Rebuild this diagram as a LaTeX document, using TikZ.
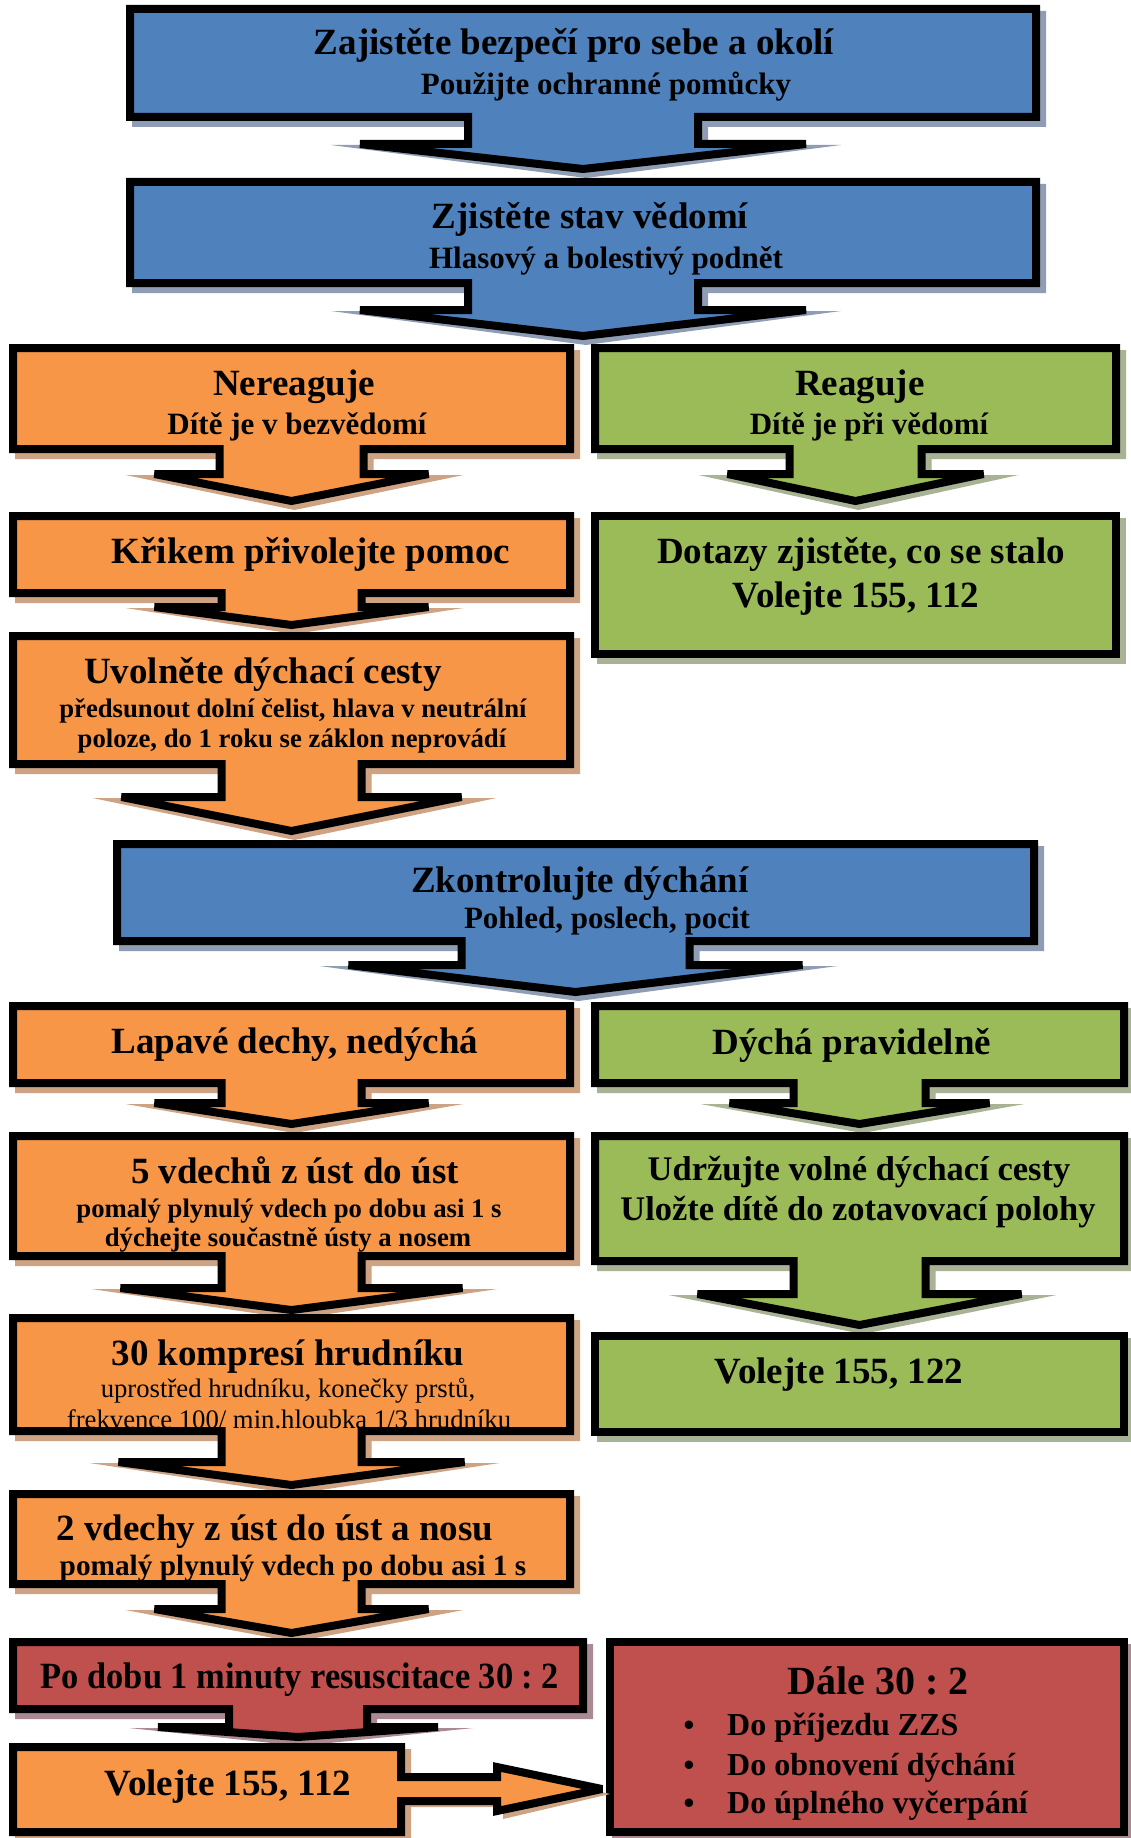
\documentclass[tikz,border=0pt]{standalone}
\usepackage{fontspec}
\setmainfont{Liberation Serif}
\newfontfamily\condfont[FakeStretch=0.93]{Liberation Serif}
\frenchspacing
\definecolor{cblue}{HTML}{4F81BD}
\definecolor{sblue}{HTML}{8E9DB3}
\definecolor{corange}{HTML}{F79646}
\definecolor{sorange}{HTML}{CDA383}
\definecolor{cgreen}{HTML}{9BBB59}
\definecolor{sgreen}{HTML}{A8B294}
\definecolor{cred}{HTML}{C0504D}
\definecolor{sred}{HTML}{A98A92}
\tikzset{
  txt/.style={anchor=base, inner sep=0pt, text=black},
  tA/.style={txt, font=\frenchspacing\fontsize{37}{40}\selectfont\bfseries},
  tB/.style={txt, font=\frenchspacing\fontsize{31}{34}\selectfont\bfseries},
  tC/.style={txt, font=\frenchspacing\fontsize{26.7}{30}\selectfont\bfseries},
  tR/.style={txt, font=\frenchspacing\fontsize{26.7}{30}\selectfont},
  tG/.style={txt, font=\frenchspacing\fontsize{34.5}{38}\selectfont\bfseries},
  tP/.style={txt, font=\frenchspacing\fontsize{29.3}{32}\selectfont\bfseries},
  tK/.style={txt, font=\frenchspacing\condfont\fontsize{37}{40}\selectfont\bfseries},
  tD/.style={txt, font=\frenchspacing\fontsize{40}{44}\selectfont\bfseries},
  tL/.style={txt, anchor=base west, font=\frenchspacing\fontsize{32}{35}\selectfont\bfseries},
  outl/.style={draw=black, line width=8pt, miter limit=3},
}
\def\parsearr#1/#2/#3/#4\relax{\def\as{#1}\def\aw{#2}\def\ayw{#3}\def\ayt{#4}}
% #1 name, #2 fill, #3 shadow, #4 x1, #5 y1, #6 x2, #7 y2, #8 s/w/yw/yt, #9 texts
\newcommand\dbox[9]{%
  \parsearr#8\relax
  \pgfmathsetmacro\cx{(#4+#6)/2}%
  \fill[#3] (#4+6,#5+6) -- (#6+6,#5+6) -- (#6+6,#7+6) -- (\cx+\as+6,#7+6) -- (\cx+\as+6,\ayw+5)
     -- (\cx+\aw+32,\ayw+5) -- (\cx+3,\ayt+4) -- (\cx-\aw-26,\ayw+5) -- (\cx-\as+6,\ayw+5)
     -- (\cx-\as+6,#7+6) -- (#4+6,#7+6) -- cycle;
  \fill[#2] (#4+4,#5+4) -- (#6-4,#5+4) -- (#6-4,#7-4) -- (\cx+\as-4,#7-4) -- (\cx+\as-4,\ayw+4)
     -- (\cx+\aw-3,\ayw+4) -- (\cx,\ayt-5) -- (\cx-\aw+3,\ayw+4) -- (\cx-\as+4,\ayw+4)
     -- (\cx-\as+4,#7-4) -- (#4+4,#7-4) -- cycle;
  \coordinate (#1) at (\cx,{(#5+#7)/2});
  \coordinate (#1-tip) at (\cx,\ayt);
  #9
  \draw[outl] (#4+4,#5+4) -- (#6-4,#5+4) -- (#6-4,#7-4) -- (\cx+\as-4,#7-4) -- (\cx+\as-4,\ayw+4)
     -- (\cx+\aw-3,\ayw+4) -- (\cx,\ayt-5) -- (\cx-\aw+3,\ayw+4) -- (\cx-\as+4,\ayw+4)
     -- (\cx-\as+4,#7-4) -- (#4+4,#7-4) -- cycle;
}
% plain box: #1 name, #2 fill, #3 shadow, #4 x1, #5 y1, #6 x2, #7 y2, #8 texts
\newcommand\pbox[8]{%
  \fill[#3] (#4+6,#5+6) rectangle (#6+6,#7+6);
  \fill[#2] (#4+4,#5+4) rectangle (#6-4,#7-4);
  \coordinate (#1) at ({(#4+#6)/2},{(#5+#7)/2});
  #8
  \draw[outl] (#4+4,#5+4) rectangle (#6-4,#7-4);
}
\begin{document}
\begin{tikzpicture}[x=1pt,y=-1pt]
\useasboundingbox (0,0) rectangle (1130,1838);
\fill[white] (0,0) rectangle (1130,1838);

\dbox{b1}{cblue}{sblue}{126}{5}{1040}{121}{119/226/140/174}{%
  \node[tA] (b1t) at (574,55) {Zajistěte bezpečí pro sebe a okolí};
  \node[tB] (b1s) at (606,95) {Použijte ochranné pomůcky};}

\dbox{b2}{cblue}{sblue}{126}{178}{1040}{287}{119/226/306/341}{%
  \node[tA] (b2t) at (590,228) {Zjistěte stav vědomí};
  \node[tB] (b2s) at (606,268) {Hlasový a bolestivý podnět};}

\dbox{b3}{corange}{sorange}{9}{344}{574}{453}{76/140/470/506}{%
  \node[tA] (b3t) at (294,395) {Nereaguje};
  \node[tB] (b3s) at (297,434) {Dítě je v bezvědomí};}

\dbox{b4}{cgreen}{sgreen}{591}{344}{1120}{453}{70/131/470/506}{%
  \node[tA] (b4t) at (860,395) {Reaguje};
  \node[tB] (b4s) at (869,434) {Dítě je při vědomí};}

\dbox{b5}{corange}{sorange}{9}{512}{574}{597}{74/140/603/630}{%
  \node[tA] (b5t) at (311,563) {Křikem přivolejte pomoc};}

\pbox{b6}{cgreen}{sgreen}{591}{512}{1120}{658}{%
  \node[tA] (b6t) at (861,563) {Dotazy zjistěte, co se stalo};
  \node[tA] (b6s) at (856,607) {Volejte 155, 112};}

\dbox{b7}{corange}{sorange}{9}{632}{574}{768}{74/173/793/836}{%
  \node[tA] (b7t) at (263,683) {Uvolněte dýchací cesty};
  \node[tC] (b7s) at (293,717) {předsunout dolní čelist, hlava v neutrální};
  \node[tC] (b7u) at (292,747) {poloze, do 1 roku se záklon neprovádí};}

\dbox{b8}{cblue}{sblue}{113}{840}{1038}{945}{118/230/961/997}{%
  \node[tA] (b8t) at (580,892) {Zkontrolujte dýchání};
  \node[tB] (b8s) at (607,928) {Pohled, poslech, pocit};}

\dbox{b9}{corange}{sorange}{9}{1002}{574}{1087}{74/140/1099/1129}{%
  \node[tA] (b9t) at (295,1053) {Lapavé dechy, nedýchá};}

\dbox{b10}{cgreen}{sgreen}{591}{1002}{1128}{1087}{70/133/1099/1129}{%
  \node[tA] (b10t) at (852,1054) {Dýchá pravidelně};}

\dbox{b11}{corange}{sorange}{9}{1132}{574}{1260}{74/174/1284/1315}{%
  \node[tA] (b11t) at (295,1183) {5 vdechů z úst do úst};
  \node[tC] (b11s) at (289,1217) {pomalý plynulý vdech po dobu asi 1 s};
  \node[tC] (b11u) at (288,1246) {dýchejte součastně ústy a nosem};}

\dbox{b12}{cgreen}{sgreen}{591}{1132}{1128}{1265}{70/165/1290/1330}{%
  \node[tG] (b12t) at (859,1180) {Udržujte volné dýchací cesty};
  \node[tG] (b12s) at (858,1220) {Uložte dítě do zotavovací polohy};}

\dbox{b13}{corange}{sorange}{9}{1314}{574}{1435}{74/176/1458/1490}{%
  \node[tA] (b13t) at (288,1365) {30 kompresí hrudníku};
  \node[tR] (b13s) at (288,1397) {uprostřed hrudníku, konečky prstů,};
  \node[tR] (b13u) at (289,1428) {frekvence 100/ min.hloubka 1/3 hrudníku};}

\pbox{b14}{cgreen}{sgreen}{591}{1332}{1128}{1436}{%
  \node[tA] (b14t) at (839,1383) {Volejte 155, 122};}

\dbox{b15}{corange}{sorange}{9}{1490}{574}{1588}{74/140/1605/1638}{%
  \node[tA] (b15t) at (275,1540) {2 vdechy z úst do úst a nosu};
  \node[tP] (b15s) at (293,1575) {pomalý plynulý vdech po dobu asi 1 s};}

\dbox{b16}{cred}{sred}{9}{1638}{587}{1713}{73/143/1723/1742}{%
  \node[tK] (b16t) at (300,1688) {Po dobu 1 minuty resuscitace 30 : 2};}

% red box on the right
\pbox{b18}{cred}{sred}{606}{1638}{1128}{1836}{%
  \node[tD] (b18t) at (878,1694) {Dále 30 : 2};
  \node[tL] (l1) at (727,1735) {Do příjezdu ZZS};
  \node[tL] (l2) at (727,1775) {Do obnovení dýchání};
  \node[tL] (l3) at (727,1813) {Do úplného vyčerpání};
  \node[tB] (d1) at (689,1735) {•};
  \node[tB] (d2) at (689,1775) {•};
  \node[tB] (d3) at (689,1813) {•};}

% orange box with right arrow callout
\coordinate (b17) at (207,1790);
\fill[sorange] (15,1749) -- (411,1749) -- (411,1779) -- (503,1779) -- (503,1769) -- (610,1794)
   -- (503,1819) -- (503,1807) -- (411,1807) -- (411,1842) -- (15,1842) -- cycle;
\fill[corange] (13,1747) -- (401,1747) -- (401,1777) -- (497,1777) -- (497,1767) -- (602,1789)
   -- (497,1811) -- (497,1801) -- (401,1801) -- (401,1832) -- (13,1832) -- cycle;
\node[tA] (b17t) at (228,1795) {Volejte 155, 112};
\draw[outl] (13,1747) -- (401,1747) -- (401,1777) -- (497,1777) -- (497,1767) -- (602,1789)
   -- (497,1811) -- (497,1801) -- (401,1801) -- (401,1832) -- (13,1832) -- cycle;
\end{tikzpicture}
\end{document}
